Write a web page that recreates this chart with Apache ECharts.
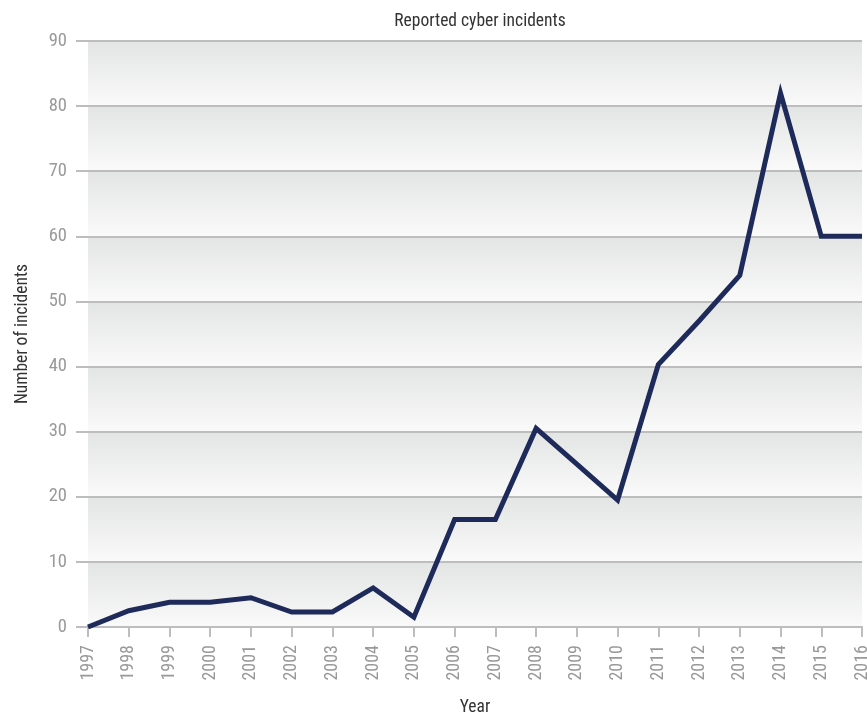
<!DOCTYPE html>
<html>
<head>
<meta charset="utf-8">
<script src="https://cdn.jsdelivr.net/npm/echarts@6/dist/echarts.min.js"></script>
<style>html,body{margin:0;padding:0;background:#fff}#c{width:867px;height:715px}</style>
</head>
<body>
<div id="c"></div>
<script>
var years = ['1997','1998','1999','2000','2001','2002','2003','2004','2005','2006','2007','2008','2009','2010','2011','2012','2013','2014','2015','2016'];
var incidents = [0, 2.5, 3.8, 3.8, 4.5, 2.3, 2.3, 6, 1.5, 16.5, 16.5, 30.5, 25, 19.5, 40.3, 47, 54, 82, 60, 60];
var yTicks = [0, 10, 20, 30, 40, 50, 60, 70, 80, 90];

var FONT = "'Liberation Sans Narrow', 'Roboto Condensed', 'DejaVu Sans Condensed', sans-serif";
var chart = echarts.init(document.getElementById('c'));
var band = new echarts.graphic.LinearGradient(0, 0, 0, 1, [
  {offset: 0, color: '#e3e4e4'},
  {offset: 1, color: '#fafafa'}
]);
chart.setOption({
  animation: false,
  backgroundColor: '#ffffff',
  title: {
    text: 'Reported cyber incidents',
    left: 475, top: 8, textAlign: 'center',
    textStyle: {fontFamily: FONT, fontSize: 17.5, fontWeight: 'normal', color: '#333'}
  },
  grid: {left: 88, right: 5, top: 41, bottom: 88, containLabel: false, outerBoundsMode: 'none'},
  xAxis: {
    type: 'category',
    data: years,
    boundaryGap: false,
    name: 'Year',
    nameLocation: 'middle',
    nameGap: 72,
    nameTextStyle: {fontFamily: FONT, fontSize: 17.5, color: '#333'},
    axisLine: {show: true, lineStyle: {color: '#bdbdbd', width: 2}},
    axisTick: {show: true, length: 10, alignWithLabel: true, lineStyle: {color: '#bdbdbd', width: 2}},
    axisLabel: {rotate: 90, margin: 18, fontFamily: FONT, fontSize: 18, color: '#999', interval: 0}
  },
  yAxis: {
    type: 'value',
    min: yTicks[0], max: yTicks[yTicks.length - 1], interval: 10,
    name: 'Number of incidents',
    nameLocation: 'middle',
    nameGap: 56,
    nameTextStyle: {fontFamily: FONT, fontSize: 17.5, color: '#333'},
    axisLine: {show: false},
    axisTick: {show: true, length: 12, lineStyle: {color: '#bdbdbd', width: 2}},
    axisLabel: {margin: 21, fontFamily: FONT, fontSize: 18.5, color: '#999'},
    splitLine: {show: true, lineStyle: {color: '#bdbdbd', width: 2}},
    splitArea: {show: true, areaStyle: {color: [band]}}
  },
  series: [{
    type: 'line',
    data: incidents,
    symbol: 'none',
    lineStyle: {color: '#1e2b5a', width: 5, join: 'miter'},
    z: 5
  }]
});
</script>
</body>
</html>
